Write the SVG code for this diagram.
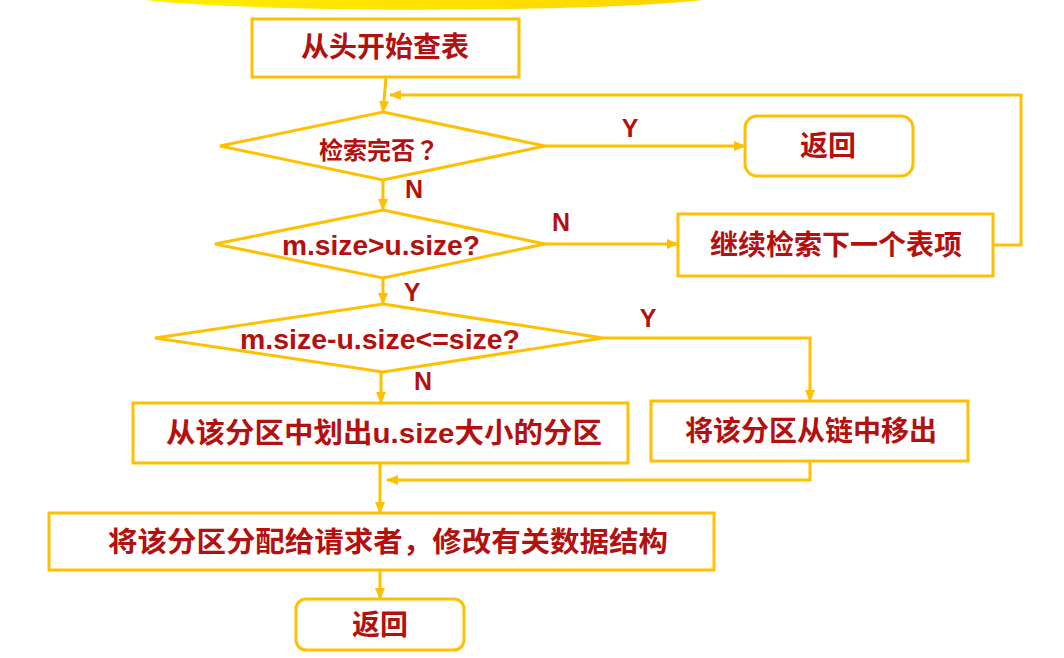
<svg xmlns="http://www.w3.org/2000/svg" width="1064" height="658" viewBox="0 0 1064 658">
  <defs>
    <linearGradient id="band" x1="0" y1="0" x2="1" y2="0">
      <stop offset="0" stop-color="#FFEE00"/>
      <stop offset="1" stop-color="#FFD500"/>
    </linearGradient>
    <marker id="arrow" markerUnits="userSpaceOnUse" markerWidth="12" markerHeight="10" refX="11" refY="5" orient="auto">
      <path d="M0,0 L12,5 L0,10 Z" fill="#FFC000"/>
    </marker>
    <style>
      .box { fill: #FFFFFF; stroke: #FFC000; stroke-width: 3; }
      .link { fill: none; stroke: #FFC000; stroke-width: 3; }
      .arr { marker-end: url(#arrow); }
      .t { font-family: "Liberation Sans", "Noto Sans CJK SC", sans-serif; font-weight: bold; fill: #B3100E; text-anchor: middle; dominant-baseline: central; }
      .cjk { font-size: 28px; }
      .latin { font-size: 28px; }
      .lbl { font-size: 25px; }
      .q { font-family: "Noto Sans CJK SC", sans-serif; font-size: 24px; }
      .qm { font-family: "Noto Sans CJK TC", sans-serif; }
    </style>
  </defs>

  <!-- decorative band at the top edge -->
  <path d="M145,0 C260,13 590,13 702,0 Z" fill="url(#band)"/>

  <!-- connectors -->
  <g id="connectors">
    <path class="link arr" d="M386,78 L383,112"/>
    <path class="link arr" d="M993,245 L1021,245 L1021,95 L390,95"/>
    <path class="link arr" d="M545,146 L745,146"/>
    <path class="link arr" d="M383,180 L383,210"/>
    <path class="link arr" d="M545,244 L678,244"/>
    <path class="link arr" d="M383,278 L383,304"/>
    <path class="link arr" d="M603,338 L810,338 L810,401"/>
    <path class="link arr" d="M381,372 L381,403"/>
    <path class="link arr" d="M380,463 L380,513"/>
    <path class="link arr" d="M810,461 L810,480 L387,480"/>
    <path class="link arr" d="M380,570 L380,599"/>
    <text class="t lbl" x="630" y="128">Y</text>
    <text class="t lbl" x="414" y="189">N</text>
    <text class="t lbl" x="561" y="222">N</text>
    <text class="t lbl" x="412" y="292">Y</text>
    <text class="t lbl" x="648" y="318">Y</text>
    <text class="t lbl" x="423" y="381">N</text>
  </g>

  <g id="start">
    <rect class="box" x="252" y="19" width="267" height="58"/>
    <text class="t cjk" x="385" y="47">从头开始查表</text>
  </g>

  <g id="check-done">
    <polygon class="box" points="383,112 545,146 383,180 220,146"/>
    <text class="t q" x="379" y="148">检索完否<tspan class="qm">？</tspan></text>
  </g>

  <g id="return-top">
    <rect class="box" x="745" y="116" width="168" height="60" rx="12"/>
    <text class="t cjk" x="828" y="146">返回</text>
  </g>

  <g id="check-size">
    <polygon class="box" points="383,210 545,244 383,278 215,244"/>
    <text class="t latin" x="381" y="245" textLength="198" lengthAdjust="spacingAndGlyphs">m.size&gt;u.size?</text>
  </g>

  <g id="next-entry">
    <rect class="box" x="678" y="214" width="315" height="62"/>
    <text class="t cjk" x="836" y="245">继续检索下一个表项</text>
  </g>

  <g id="check-remainder">
    <polygon class="box" points="383,304 603,338 383,372 155,338"/>
    <text class="t latin" x="380" y="339" textLength="280" lengthAdjust="spacingAndGlyphs">m.size-u.size&lt;=size?</text>
  </g>

  <g id="split">
    <rect class="box" x="133" y="403" width="495" height="60"/>
    <text class="t cjk" x="384" y="433" textLength="436" lengthAdjust="spacingAndGlyphs">从该分区中划出u.size大小的分区</text>
  </g>

  <g id="unlink">
    <rect class="box" x="651" y="401" width="317" height="60"/>
    <text class="t cjk" x="811" y="431">将该分区从链中移出</text>
  </g>

  <g id="allocate">
    <rect class="box" x="49" y="513" width="665" height="57"/>
    <text class="t cjk" x="388" y="542" textLength="560" lengthAdjust="spacingAndGlyphs">将该分区分配给请求者，修改有关数据结构</text>
  </g>

  <g id="return-bottom">
    <rect class="box" x="296" y="599" width="168" height="51" rx="10"/>
    <text class="t cjk" x="380" y="625">返回</text>
  </g>
</svg>
